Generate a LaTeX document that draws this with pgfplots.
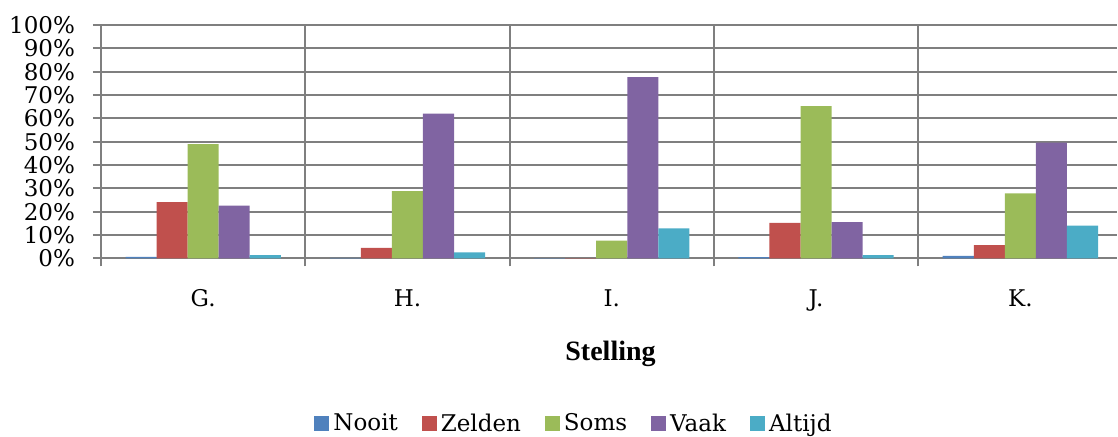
\documentclass[border=0pt]{standalone}
\usepackage{fontspec}
\setmainfont{DejaVu Serif}
\newfontfamily\titlefont{Liberation Serif}
\usepackage{pgfplots}
\pgfplotsset{compat=1.18}
\definecolor{cNooit}{HTML}{4F81BD}
\definecolor{cZelden}{HTML}{C0504D}
\definecolor{cSoms}{HTML}{9BBB59}
\definecolor{cVaak}{HTML}{8064A2}
\definecolor{cAltijd}{HTML}{4BACC6}
\definecolor{gridc}{HTML}{7F7F7F}
\begin{document}
\begin{tikzpicture}
\path[use as bounding box] (0,0) rectangle (559pt,218.5pt);
\begin{axis}[
  at={(50.5pt,89.25pt)}, anchor=south west,
  scale only axis, width=508pt, height=116.75pt,
  xmin=-0.5, xmax=4.473, ymin=0, ymax=100,
  axis lines=left,
  axis line style={-, gridc, line width=1pt},
  ybar=0pt, bar width=0.152,
  xtick={-0.5,0.5,1.5,2.5,3.5,4.5}, xticklabels={},
  extra x ticks={0,1,2,3,4},
  extra x tick labels={G.,H.,I.,J.,K.},
  extra x tick style={major tick length=0pt, grid=none,
     tick label style={yshift=-12pt}},
  ytick={0,10,...,100},
  yticklabel={\pgfmathprintnumber{\tick}\%},
  /pgf/number format/assume math mode=true,
  tick align=outside, major tick length=4pt,
  tick style={gridc, line width=1pt},
  grid=major, major grid style={gridc, line width=1pt},
  ticklabel style={font=\fontsize{11.5}{13}\selectfont},
  yticklabel style={xshift=-5.5pt},
  xlabel={\titlefont\bfseries\fontsize{14}{16}\selectfont Stelling},
  xlabel style={at={(0.5015,-0.41)}, anchor=center},
  legend style={at={(0.4665,-0.708)}, anchor=center, draw=none,
     legend columns=-1, font=\fontsize{11.5}{13}\selectfont,
     /tikz/every even column/.append style={column sep=10pt},
     legend cell align=left},
  legend image code/.code={\fill[#1] (0pt,-3.75pt) rectangle (7.5pt,3.75pt);},
]
\addplot[fill=cNooit, draw=none] coordinates {(0,0.7) (1,0.3) (2,0.2) (3,0.6) (4,1.1)};
\addplot[fill=cZelden, draw=none] coordinates {(0,24.1) (1,4.6) (2,0.2) (3,15.3) (4,5.7)};
\addplot[fill=cSoms, draw=none] coordinates {(0,49.0) (1,28.9) (2,7.7) (3,65.3) (4,27.9)};
\addplot[fill=cVaak, draw=none] coordinates {(0,22.6) (1,62.0) (2,77.7) (3,15.6) (4,49.6)};
\addplot[fill=cAltijd, draw=none] coordinates {(0,1.4) (1,2.6) (2,12.9) (3,1.4) (4,14.1)};
\legend{Nooit,Zelden,Soms,Vaak,Altijd}
\end{axis}
\end{tikzpicture}
\end{document}
